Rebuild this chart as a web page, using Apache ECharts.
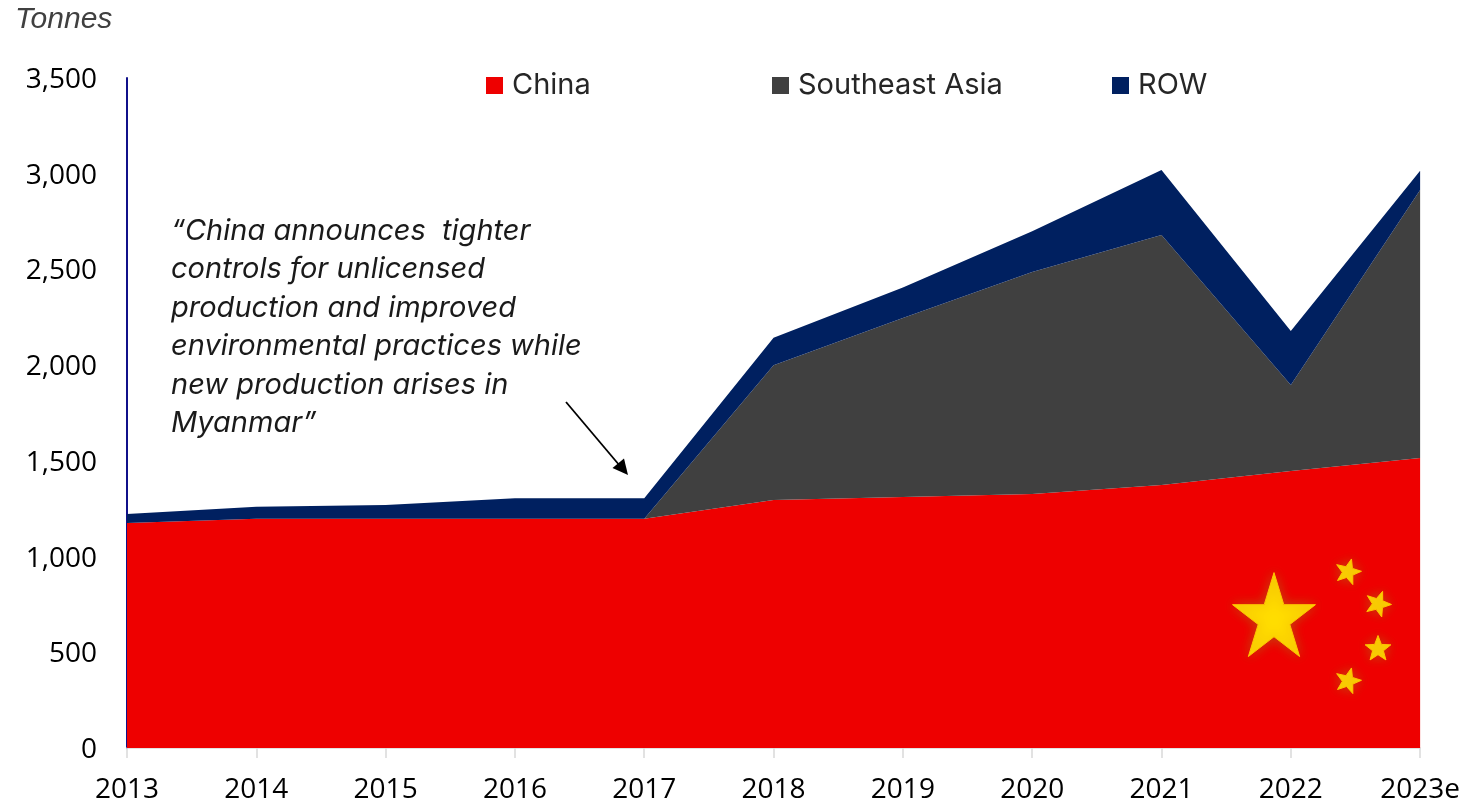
<!DOCTYPE html>
<html><head><meta charset="utf-8">
<style>html,body{margin:0;padding:0;background:#fff}#c{width:1463px;height:806px}</style>
<script src="https://cdn.jsdelivr.net/npm/echarts@6/dist/echarts.min.js"></script>
</head><body><div id="c"></div>
<script>
const years = ['2013','2014','2015','2016','2017','2018','2019','2020','2021','2022','2023e'];
const china = [1175,1197,1197,1197,1197,1295,1311,1327,1374,1447,1515];
const seAsia = [0,0,0,0,0,705,935,1160,1306,449,1400];
const row = [47,63,72,108,108,143,159,212,339,282,100];
const noteLines = ['“China announces  tighter','controls for unlicensed','production and improved','environmental practices while','new production arises in','Myanmar”'];

const FONT = '"Open Sans","Noto Sans",sans-serif';
const TEXTFONT = 'Inter,"Open Sans",sans-serif';
const chart = echarts.init(document.getElementById('c'), null, {renderer:'canvas'});

function starPts(cx, cy, rx, ry, rotDeg, inner){
  const pts = [], rot = rotDeg*Math.PI/180;
  for(let i=0;i<10;i++){
    const r = i%2===0 ? 1 : inner;
    const a = -Math.PI/2 + i*Math.PI/5 + rot;
    pts.push([cx + rx*r*Math.cos(a), cy + ry*r*Math.sin(a)]);
  }
  return pts;
}
function star(cx, cy, rx, ry, rot, blur, inner){
  return {type:'polygon', z:100, silent:true, shape:{points:starPts(cx,cy,rx,ry,rot,inner)},
    style:{fill:'#FFDD00', stroke:'#FFC400', lineWidth:1, shadowColor:'#C04A10', shadowBlur:blur}};
}
function legendAt(name, left){
  return {data:[name], left:left, top:71, icon:'rect', itemWidth:17, itemHeight:17,
    selectedMode:false, padding:0, textStyle:{fontFamily:TEXTFONT, fontSize:29, color:'#262626', padding:[0,0,0,4]}};
}
function areaSeries(name, data, color){
  return {name, type:'line', stack:'t', data, symbol:'none', showSymbol:false,
    lineStyle:{width:0}, itemStyle:{color}, areaStyle:{color, opacity:1}};
}
chart.setOption({
  animation:false,
  backgroundColor:'#fff',
  grid:{left:127, top:78, width:1294, height:670, containLabel:false},
  legend:[legendAt('China',486), legendAt('Southeast Asia',772), legendAt('ROW',1112)],
  xAxis:{type:'category', data:years, boundaryGap:false,
    axisLine:{show:true, lineStyle:{color:'#D9D9D9', width:1.5}},
    axisTick:{show:true, alignWithLabel:true, length:10, lineStyle:{color:'#D9D9D9', width:1.5}},
    axisLabel:{interval:0, hideOverlap:false, color:'#000', fontFamily:FONT, fontSize:28, margin:28, lineHeight:28},
    splitLine:{show:false}},
  yAxis:{type:'value', min:0, max:3500, interval:500,
    axisLine:{show:true, lineStyle:{color:'#10108A', width:2}},
    axisTick:{show:false}, splitLine:{show:false},
    axisLabel:{margin:30, color:'#000', fontFamily:FONT, fontSize:28,
      formatter:v=>'{a|'+v.toLocaleString('en-US')+'}',
      rich:{a:{color:'#000', fontFamily:FONT, fontSize:28, padding:[4,0,0,0]}}}},
  series:[areaSeries('China',china,'#EE0000'), areaSeries('Southeast Asia',seAsia,'#404040'), areaSeries('ROW',row,'#002060')],
  graphic:[
    {type:'text', left:15, top:5, z:100, style:{text:'Tonnes', font:'italic 30px "Liberation Sans",sans-serif', fill:'#404040'}},
    {type:'text', left:171, top:212, z:100, style:{text:noteLines.join('\n'), font:'italic 29px '+TEXTFONT, lineHeight:38.5, fill:'#1a1a1a'}},
    {type:'line', z:100, silent:true, shape:{x1:566,y1:402,x2:620,y2:466}, style:{stroke:'#000', lineWidth:1.8}},
    {type:'polygon', z:100, silent:true, shape:{points:[[628,475],[612.5,468],[624,458.5]]}, style:{fill:'#000'}},
    star(1274,619,43.6,46.4,0,12,0.382),
    star(1348,572,13.5,13.5,15,11,0.42),
    star(1378,604,13.5,13.5,20,11,0.42),
    star(1378,649,13.5,13.5,0,11,0.42),
    star(1348,681,13.5,13.5,15,11,0.42)
  ]
});
</script></body></html>
